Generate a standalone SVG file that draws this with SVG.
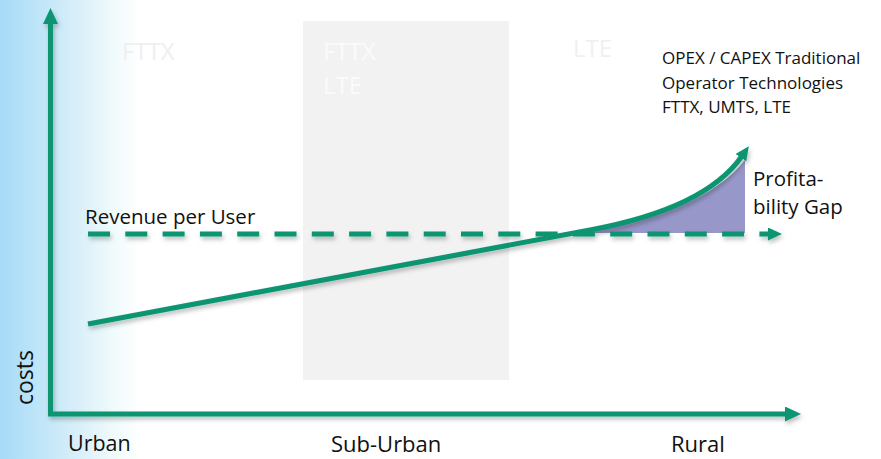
<svg xmlns="http://www.w3.org/2000/svg" width="881" height="459" viewBox="0 0 881 459">
  <style>
    .lbl { font-family: "Open Sans", "Noto Sans", "Liberation Sans", sans-serif; fill: #111111; }
    .zone { font-family: "Open Sans", "Noto Sans", "Liberation Sans", sans-serif; font-size: 24px; }
    .ln { fill: none; stroke: #0b9572; stroke-width: 5; }
  </style>
  <defs>
    <linearGradient id="bg" x1="0" y1="0" x2="140" y2="0" gradientUnits="userSpaceOnUse">
      <stop offset="0" stop-color="#a6dbf8"/>
      <stop offset="0.55" stop-color="#d8eff9"/>
      <stop offset="0.8" stop-color="#effafb"/>
      <stop offset="1" stop-color="#ffffff"/>
    </linearGradient>
    <marker id="arrow" viewBox="0 0 16 15" refX="2" refY="7.5" markerWidth="16" markerHeight="15" markerUnits="userSpaceOnUse" orient="auto">
      <path d="M0,0 L16,7.5 L0,15 Z" fill="#0b9572"/>
    </marker>
    <marker id="arrowS" viewBox="0 0 14 13" refX="2" refY="6.5" markerWidth="14" markerHeight="13" markerUnits="userSpaceOnUse" orient="auto">
      <path d="M0,0 L14,6.5 L0,13 Z" fill="#0b9572"/>
    </marker>
    <filter id="sh" x="-5%" y="-20%" width="110%" height="160%">
      <feDropShadow dx="1.5" dy="3" stdDeviation="2" flood-color="#000000" flood-opacity="0.25"/>
    </filter>
  </defs>

  <rect x="0" y="0" width="881" height="459" fill="#ffffff"/>
  <rect x="0" y="0" width="140" height="459" fill="url(#bg)"/>

  <g id="zone-suburban">
    <rect x="303" y="21" width="206" height="359" fill="#f2f2f2"/>
    <text class="zone" x="323" y="60" fill="#fbfbfb">FTTX</text>
    <text class="zone" x="323" y="94" fill="#fbfbfb">LTE</text>
  </g>
  <g id="zone-urban">
    <text class="zone" x="122" y="60" fill="#efefef">FTTX</text>
  </g>
  <g id="zone-rural">
    <text class="zone" x="573" y="57" fill="#f0f0f0">LTE</text>
  </g>

  <g id="gap-area">
    <path d="M588,233 L592,230.5 C660,218 716,197 745,160 L745,233 Z" fill="#9797c9"/>
  </g>

  <g id="connectors" filter="url(#sh)">
    <path id="y-axis" class="ln" d="M50.5,416 L50.5,22" marker-end="url(#arrow)"/>
    <path id="x-axis" class="ln" d="M48,414 L787,414" marker-end="url(#arrow)"/>
    <path id="revenue-line" class="ln" d="M88,234 L770,234" stroke-dasharray="22 15.3" marker-end="url(#arrowS)"/>
    <path id="cost-curve" class="ln" d="M88,324 L590,230 C660,217 715,195 742,156" marker-end="url(#arrowS)"/>
  </g>

  <g id="labels">
    <text class="lbl" x="85" y="224" font-size="20.5">Revenue per User</text>
    <text class="lbl" x="662" y="64" font-size="17">OPEX / CAPEX Traditional</text>
    <text class="lbl" x="662" y="89" font-size="17">Operator Technologies</text>
    <text class="lbl" x="662" y="113" font-size="17">FTTX, UMTS, LTE</text>
    <text class="lbl" x="753" y="186" font-size="20.5">Profita-</text>
    <text class="lbl" x="753" y="214" font-size="20.5">bility Gap</text>
    <text class="lbl" x="68" y="451" font-size="21.5">Urban</text>
    <text class="lbl" x="331" y="452" font-size="22">Sub-Urban</text>
    <text class="lbl" x="671" y="452" font-size="22">Rural</text>
    <text class="lbl" transform="translate(33,405) rotate(-90)" font-size="23">costs</text>
  </g>
</svg>
